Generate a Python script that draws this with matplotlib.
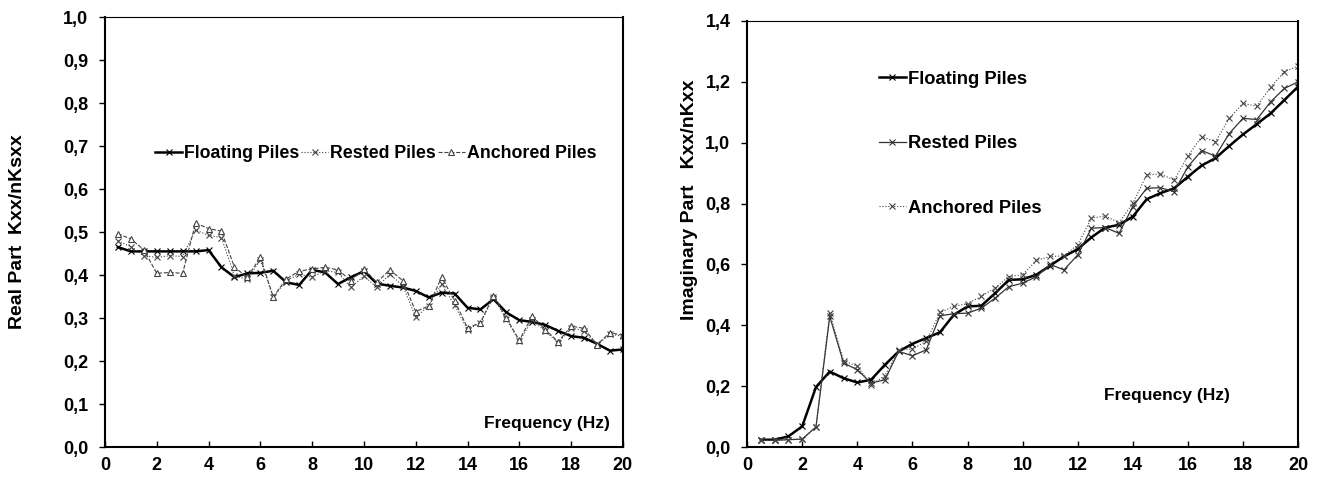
import matplotlib
matplotlib.use("Agg")
import matplotlib.pyplot as plt
from matplotlib.ticker import FuncFormatter, MultipleLocator

# frequency points (Hz)
freq = [0.5 * k for k in range(1, 41)]

# real part Kxx/nKsxx
real_floating = [0.465, 0.455, 0.455, 0.455, 0.455, 0.455, 0.455, 0.458, 0.418, 0.395,
                 0.404, 0.405, 0.410, 0.383, 0.377, 0.412, 0.406, 0.379, 0.395, 0.409,
                 0.380, 0.375, 0.371, 0.363, 0.348, 0.359, 0.357, 0.324, 0.320, 0.344,
                 0.313, 0.295, 0.291, 0.284, 0.270, 0.258, 0.254, 0.240, 0.224, 0.227]
real_rested = [0.479, 0.466, 0.445, 0.441, 0.445, 0.443, 0.505, 0.492, 0.487, 0.398,
               0.390, 0.435, 0.348, 0.387, 0.402, 0.395, 0.410, 0.406, 0.371, 0.398,
               0.371, 0.402, 0.375, 0.302, 0.328, 0.379, 0.330, 0.273, 0.289, 0.348,
               0.297, 0.246, 0.295, 0.270, 0.242, 0.277, 0.270, 0.238, 0.262, 0.258]
real_anchored = [0.496, 0.484, 0.459, 0.404, 0.406, 0.404, 0.521, 0.508, 0.502, 0.418,
                 0.395, 0.441, 0.349, 0.391, 0.409, 0.414, 0.418, 0.412, 0.387, 0.414,
                 0.383, 0.412, 0.387, 0.315, 0.328, 0.395, 0.340, 0.277, 0.289, 0.352,
                 0.300, 0.248, 0.305, 0.273, 0.245, 0.281, 0.276, 0.238, 0.266, 0.260]

# imaginary part Kxx/nKxx
imag_floating = [0.024, 0.024, 0.035, 0.068, 0.197, 0.248, 0.226, 0.212, 0.221, 0.270,
                 0.314, 0.339, 0.358, 0.377, 0.434, 0.462, 0.464, 0.505, 0.549, 0.551,
                 0.566, 0.596, 0.626, 0.650, 0.689, 0.721, 0.730, 0.757, 0.814, 0.834,
                 0.850, 0.888, 0.925, 0.949, 0.989, 1.027, 1.061, 1.096, 1.140, 1.184]
imag_rested = [0.022, 0.022, 0.024, 0.026, 0.066, 0.429, 0.276, 0.254, 0.210, 0.221,
               0.314, 0.300, 0.319, 0.431, 0.438, 0.440, 0.456, 0.489, 0.527, 0.538,
               0.560, 0.600, 0.582, 0.631, 0.719, 0.721, 0.702, 0.790, 0.850, 0.852,
               0.839, 0.921, 0.974, 0.956, 1.030, 1.080, 1.076, 1.134, 1.178, 1.200]
imag_anchored = [0.022, 0.022, 0.024, 0.026, 0.066, 0.440, 0.284, 0.265, 0.205, 0.234,
                 0.319, 0.322, 0.347, 0.442, 0.462, 0.471, 0.495, 0.522, 0.560, 0.566,
                 0.613, 0.626, 0.628, 0.664, 0.752, 0.759, 0.737, 0.801, 0.894, 0.897,
                 0.877, 0.956, 1.020, 1.003, 1.080, 1.129, 1.120, 1.182, 1.233, 1.252]

plt.rcParams['font.family'] = ['Liberation Sans', 'DejaVu Sans']
plt.rcParams['font.weight'] = 'bold'

comma = FuncFormatter(lambda v, p: f"{v:.1f}".replace('.', ','))

fig = plt.figure(figsize=(13.2, 4.82), dpi=100)
ax1 = fig.add_axes([0.0795, 0.0726, 0.3924, 0.892])
ax2 = fig.add_axes([0.566, 0.0726, 0.4174, 0.884])

# left panel
ax1.plot(freq, real_floating, color='black', lw=1.8, marker='x', ms=4, mew=0.8,
         label='Floating Piles')
ax1.plot(freq, real_rested, color='#444444', lw=0.8, ls=':', marker='x', ms=4, mew=0.8,
         label='Rested Piles')
ax1.plot(freq, real_anchored, color='#444444', lw=0.8, ls='--', marker='^', ms=4, mew=0.8,
         mfc='white', label='Anchored Piles')
ax1.set_xlim(0, 20)
ax1.set_ylim(0, 1.0)
ax1.yaxis.set_major_locator(MultipleLocator(0.1))
ax1.set_ylabel('Real Part  Kxx/nKsxx', fontsize=14, fontweight='bold')
ax1.yaxis.set_label_coords(-0.152, 0.5)
ax1.text(0.975, 0.055, 'Frequency (Hz)', transform=ax1.transAxes, ha='right', va='center',
         fontsize=12.5, fontweight='bold')
ax1.legend(loc='center left', bbox_to_anchor=(0.08, 0.682), ncol=3, frameon=False,
           handlelength=1.5, handletextpad=0.12, columnspacing=0.12, borderpad=0,
           prop={'size': 12.8, 'weight': 'bold'})

# right panel
ax2.plot(freq, imag_floating, color='black', lw=1.8, marker='x', ms=4, mew=0.8,
         label='Floating Piles')
ax2.plot(freq, imag_rested, color='#333333', lw=0.9, marker='x', ms=5, mew=0.8,
         label='Rested Piles')
ax2.plot(freq, imag_anchored, color='#444444', lw=0.8, ls=':', marker='x', ms=5, mew=0.8,
         label='Anchored Piles')
ax2.set_xlim(0, 20)
ax2.set_ylim(0, 1.4)
ax2.yaxis.set_major_locator(MultipleLocator(0.2))
ax2.set_ylabel('Imaginary Part   Kxx/nKxx', fontsize=14, fontweight='bold')
ax2.yaxis.set_label_coords(-0.09, 0.58)
ax2.text(0.876, 0.12, 'Frequency (Hz)', transform=ax2.transAxes, ha='right', va='center',
         fontsize=12.5, fontweight='bold')
ax2.legend(loc='upper left', bbox_to_anchor=(0.222, 0.905), ncol=1, frameon=False,
           handlelength=1.5, handletextpad=0.12, labelspacing=2.6, borderpad=0,
           prop={'size': 13.2, 'weight': 'bold'})

for ax in (ax1, ax2):
    ax.xaxis.set_major_locator(MultipleLocator(2))
    ax.yaxis.set_major_formatter(comma)
    ax.tick_params(axis='x', direction='in', length=4, width=1, labelsize=13, pad=7)
    ax.tick_params(axis='y', direction='out', length=4, width=1, labelsize=13, pad=8)
    for t in ax.get_xticklabels() + ax.get_yticklabels():
        t.set_fontweight('bold')
    ax.spines['left'].set_linewidth(1.5)
    ax.spines['bottom'].set_linewidth(1.5)
    ax.spines['top'].set_linewidth(0.8)
    ax.spines['right'].set_linewidth(1.5)

fig.savefig('out.png', dpi=100)
